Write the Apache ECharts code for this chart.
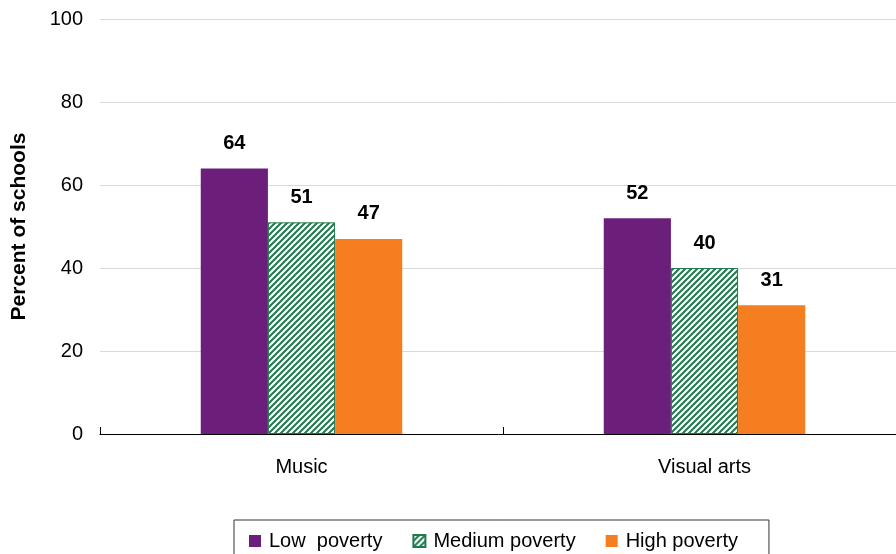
<!DOCTYPE html>
<html><head><meta charset="utf-8">
<script src="https://cdn.jsdelivr.net/npm/echarts@6/dist/echarts.min.js"></script>
<style>html,body{margin:0;padding:0;background:#fff}#c{width:896px;height:554px}</style>
</head><body><div id="c"></div>
<script>
const categories = ['Music', 'Visual arts'];
const lowPoverty = [64, 52];
const mediumPoverty = [51, 40];
const highPoverty = [47, 31];
const yTicks = [0, 20, 40, 60, 80, 100];

function stripe() {
  const c = document.createElement('canvas');
  c.width = 6; c.height = 6;
  const g = c.getContext('2d');
  g.fillStyle = '#ffffff'; g.fillRect(0, 0, 6, 6);
  g.strokeStyle = '#1e7a4c'; g.lineWidth = 2;
  g.beginPath();
  g.moveTo(-1, 7); g.lineTo(7, -1);
  g.moveTo(-4, 4); g.lineTo(4, -4);
  g.moveTo(2, 10); g.lineTo(10, 2);
  g.stroke();
  return c;
}
const pat = { image: stripe(), repeat: 'repeat' };
const F = 'Liberation Sans, Arial, sans-serif';
const lbl = { show: true, position: 'top', distance: 15, fontFamily: F, fontSize: 20, fontWeight: 'bold', color: '#000' };

const chart = echarts.init(document.getElementById('c'));
chart.setOption({
  animation: false,
  grid: { left: 100, width: 806, top: 19, height: 415, outerBoundsMode: 'none', containLabel: false },
  legend: {
    top: 520, left: 234, icon: 'rect', itemWidth: 12, itemHeight: 12, itemGap: 30,
    borderColor: '#333', borderWidth: 1, padding: [11, 31, 14, 15],
    textStyle: { fontFamily: F, fontSize: 20, color: '#000', padding: [0, 0, 0, 3] },
    data: ['Low  poverty', 'Medium poverty', 'High poverty']
  },
  xAxis: {
    type: 'category', data: categories,
    axisLine: { lineStyle: { color: '#000', width: 1 } },
    axisTick: { show: true, inside: true, length: 7, interval: 0, lineStyle: { color: '#000' } },
    axisLabel: { fontFamily: F, fontSize: 20, color: '#000', margin: 23 }
  },
  yAxis: {
    type: 'value', min: 0, max: 100, interval: 20,
    name: 'Percent of schools', nameLocation: 'middle', nameGap: 70, nameRotate: 90,
    nameTextStyle: { fontFamily: F, fontSize: 21, fontWeight: 'bold', color: '#000' },
    axisLine: { show: false }, axisTick: { show: false },
    axisLabel: { fontFamily: F, fontSize: 20, color: '#000', margin: 17,
      formatter: v => yTicks.includes(v) ? String(v) : '' },
    splitLine: { lineStyle: { color: '#d9d9d9', width: 1 } }
  },
  series: [
    { name: 'Low  poverty', type: 'bar', data: lowPoverty, barGap: '0%', barCategoryGap: '50%',
      itemStyle: { color: '#6b1f7b' }, label: lbl },
    { name: 'Medium poverty', type: 'bar', data: mediumPoverty,
      itemStyle: { color: pat, borderColor: '#1e7a4c', borderWidth: 1 }, label: lbl },
    { name: 'High poverty', type: 'bar', data: highPoverty,
      itemStyle: { color: '#f57f20' }, label: lbl }
  ]
});
</script></body></html>
